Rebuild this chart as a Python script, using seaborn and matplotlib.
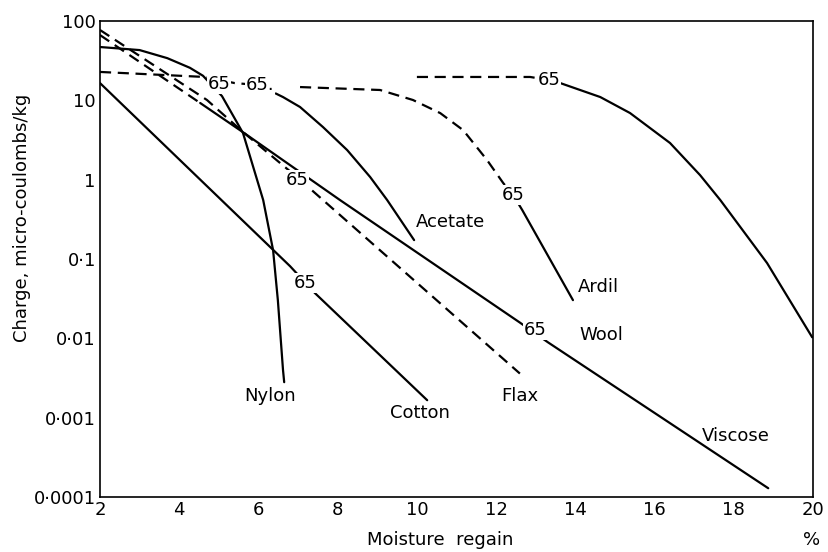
import numpy as np
import pandas as pd
import matplotlib
matplotlib.use("Agg")
import matplotlib.pyplot as plt
import seaborn as sns

# ---------------- data ----------------
nylon_x = [2.0, 3.0, 3.7, 4.27, 4.6, 5.08, 5.61, 6.12, 6.37, 6.49, 6.62, 6.65]
nylon_y = [47, 43, 34, 25.7, 20.4, 11.3, 3.87, 0.553, 0.129, 0.0303, 0.0040, 0.0028]

cotton_x = [2.0, 6.8, 7.43, 10.26]
cotton_y = [16.5, 0.081, 0.037, 0.00166]

viscose_dash_x = [2.0, 4.53]
viscose_dash_y = [66.5, 9.25]
viscose_x = [4.53, 5.64, 8.06, 12.6, 13.31, 18.87]
viscose_y = [9.25, 3.87, 0.553, 0.0158, 0.0089, 0.000129]

flax_x = [2.0, 4.70, 5.64, 6.97, 12.6]
flax_y = [77, 10.1, 3.87, 1.08, 0.0036]

acetate_dash_x = [2.0, 4.65, 5.4, 6.0, 6.62]
acetate_dash_y = [22.8, 19.7, 16.5, 15.6, 11.0]
acetate_x = [6.62, 7.05, 7.63, 8.24, 8.82, 9.25, 9.93]
acetate_y = [11.0, 8.24, 4.60, 2.36, 1.08, 0.553, 0.173]

ardil_dash_x = [7.05, 9.07, 9.9, 10.59, 11.17, 11.77, 12.18, 12.43]
ardil_dash_y = [14.7, 13.5, 10.1, 6.9, 4.2, 1.77, 0.906, 0.64]
ardil_x = [12.43, 12.66, 13.94]
ardil_y = [0.64, 0.414, 0.0303]

wool_dash_x = [10.0, 12.86, 13.34]
wool_dash_y = [19.7, 19.7, 18.0]
wool_x = [13.34, 13.62, 14.63, 15.38, 16.39, 17.15, 17.66, 18.84, 19.98]
wool_y = [18.0, 16.5, 11.0, 6.92, 2.90, 1.14, 0.553, 0.089, 0.0103]

fibre_names = ["Nylon", "Cotton", "Flax", "Viscose", "Acetate", "Ardil", "Wool"]
fibre_lab_x = [6.29, 10.08, 12.6, 18.04, 10.84, 14.58, 14.65]
fibre_lab_y = [0.0019, 0.00115, 0.0019, 0.00059, 0.29, 0.044, 0.011]

rh_lab_text = ["65", "65.", "65", "65", "65", "65", "65"]
rh_lab_x = [5.0, 6.05, 6.97, 7.18, 12.43, 12.98, 13.34]
rh_lab_y = [16.1, 15.6, 0.99, 0.050, 0.64, 0.0127, 18.0]

x_ticks = [2, 4, 6, 8, 10, 12, 14, 16, 18, 20]
y_ticks = [0.0001, 0.001, 0.01, 0.1, 1, 10, 100]
y_tick_labels = ["0·0001", "0·001", "0·01", "0·1", "1", "10", "100"]

# ---------------- plotting ----------------
sns.set_theme(style="white")
plt.rcParams["font.family"] = ["DejaVu Sans"]
plt.rcParams["text.color"] = "black"
plt.rcParams["axes.labelcolor"] = "black"
plt.rcParams["xtick.color"] = "black"
plt.rcParams["ytick.color"] = "black"

fig = plt.figure(figsize=(8.29, 5.52), dpi=100)
ax = fig.add_axes([100/829, 1-497/552, 713/829, 476/552])

lw = 1.6
dash = (0, (5, 3))

def seg(xs, ys, style):
    df = pd.DataFrame({"x": xs, "y": ys})
    sns.lineplot(data=df, x="x", y="y", ax=ax, color="black", lw=lw,
                 sort=False, estimator=None, linestyle=style)

seg(nylon_x, nylon_y, "-")
seg(cotton_x, cotton_y, "-")
seg(viscose_dash_x, viscose_dash_y, dash)
seg(viscose_x, viscose_y, "-")
seg(flax_x, flax_y, dash)
seg(acetate_dash_x, acetate_dash_y, dash)
seg(acetate_x, acetate_y, "-")
seg(ardil_dash_x, ardil_dash_y, dash)
seg(ardil_x, ardil_y, "-")
seg(wool_dash_x, wool_dash_y, dash)
seg(wool_x, wool_y, "-")

ax.set_yscale("log")
ax.set_xlim(2, 20)
ax.set_ylim(0.0001, 100)

fs = 13
for t, x, y in zip(rh_lab_text, rh_lab_x, rh_lab_y):
    ax.text(x, y, t, fontsize=fs, ha="center", va="center", zorder=5,
            color="black",
            bbox=dict(facecolor="white", edgecolor="none", pad=0.5))
for t, x, y in zip(fibre_names, fibre_lab_x, fibre_lab_y):
    ax.text(x, y, t, fontsize=fs, ha="center", va="center", zorder=5,
            color="black")

ax.set_xticks(x_ticks)
ax.set_xticklabels([str(v) for v in x_ticks], fontsize=fs)
ax.set_yticks(y_ticks)
ax.set_yticklabels(y_tick_labels, fontsize=fs)
ax.yaxis.set_minor_locator(matplotlib.ticker.NullLocator())
ax.tick_params(axis="both", which="major", direction="in", length=4,
               width=1, color="black", labelcolor="black", pad=3)

for s in ax.spines.values():
    s.set_visible(True)
    s.set_color("black")
    s.set_linewidth(1.2)

ax.set_xlabel("Moisture  regain", fontsize=fs, color="black")
ax.xaxis.set_label_coords((440-100)/713, -(540-497)/476)
ax.xaxis.label.set_va("center")
ax.set_ylabel("Charge, micro-coulombs/kg", fontsize=fs, color="black")
ax.yaxis.set_label_coords((22-100)/713, (497-218)/476)
ax.yaxis.label.set_va("center")

fig.text(812/829, 1-540/552, "%", fontsize=fs, ha="center", va="center",
         color="black")

fig.savefig("out.png", dpi=100)
